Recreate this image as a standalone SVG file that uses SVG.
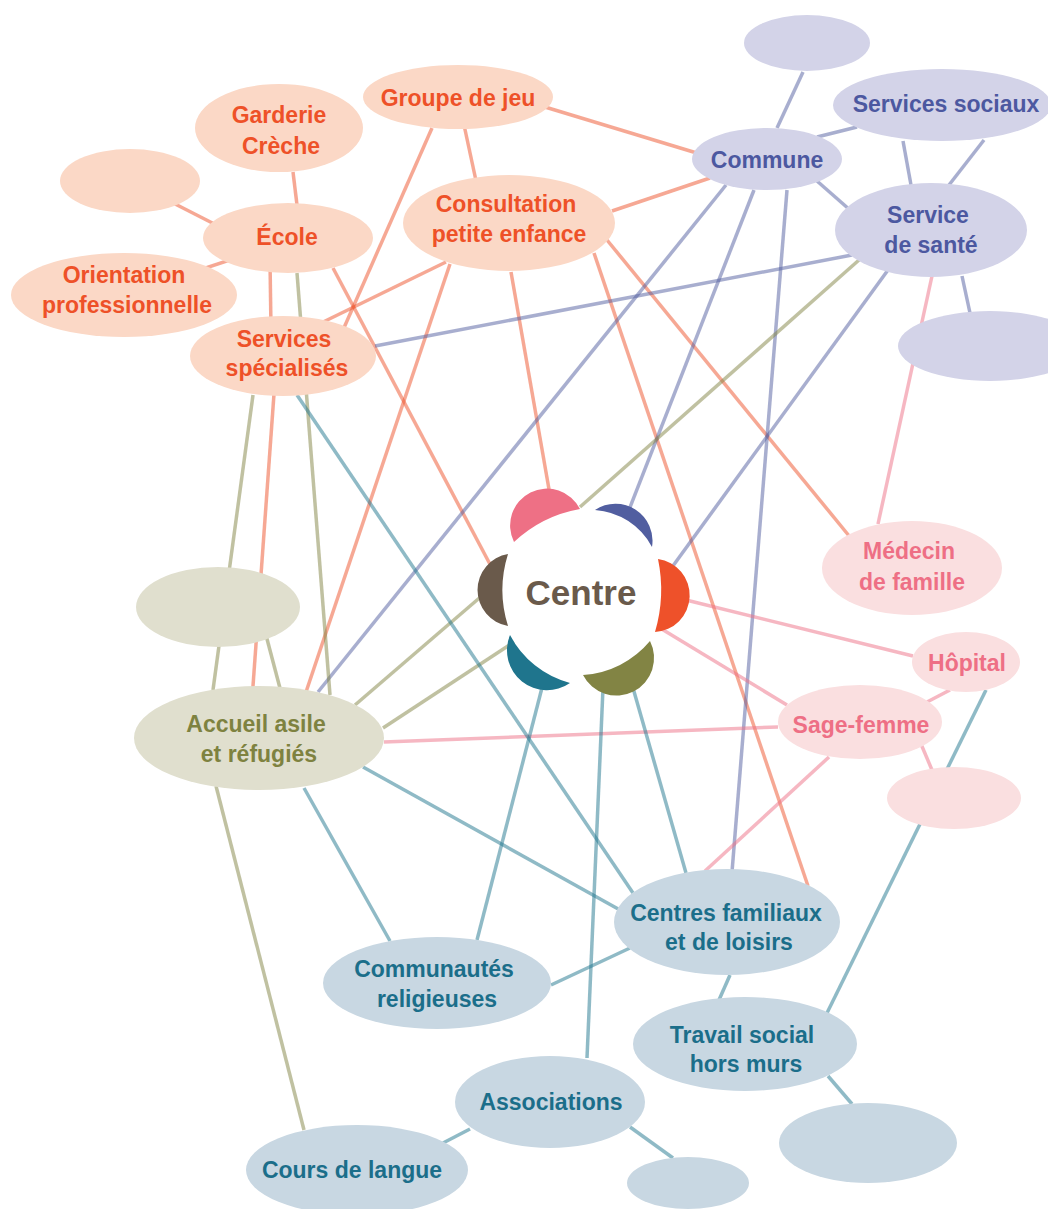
<svg xmlns="http://www.w3.org/2000/svg" width="1048" height="1209" viewBox="0 0 1048 1209">
<style>
text{font-family:"Liberation Sans",Arial,sans-serif;font-weight:bold;font-size:23px;text-anchor:middle}
.l{stroke-width:3.5;fill:none;stroke-opacity:0.5}
.lo{stroke:#EE512A}.ll{stroke:#515EA0}.lg{stroke:#828444}.lp{stroke:#EE7085}.lt{stroke:#1F758D}
.no{fill:#FBD8C6}.nl{fill:#D3D3E8}.ng{fill:#E0DFCE}.np{fill:#FADFE0}.nt{fill:#C8D7E2}
.to{fill:#EE5128}.tl{fill:#4C58A0}.tg{fill:#7E8240}.tp{fill:#EE6F85}.tt{fill:#1B6E8A}
</style>
<rect width="1048" height="1209" fill="#fff"/>
<g id="connectors">
<!-- orange -->
<line class="l lo" x1="293" y1="172" x2="297" y2="205"/>
<line class="l lo" x1="130" y1="181" x2="230" y2="232"/>
<line class="l lo" x1="124" y1="295" x2="260" y2="250"/>
<line class="l lo" x1="270" y1="260" x2="271" y2="330"/>
<line class="l lo" x1="275" y1="380" x2="252" y2="700"/>
<line class="l lo" x1="333" y1="268" x2="492" y2="568"/>
<line class="l lo" x1="458" y1="97" x2="478" y2="190"/>
<line class="l lo" x1="432" y1="128" x2="343" y2="330"/>
<line class="l lo" x1="545" y1="107" x2="700" y2="154"/>
<line class="l lo" x1="612" y1="211" x2="710" y2="178"/>
<line class="l lo" x1="446" y1="262" x2="317" y2="325"/>
<line class="l lo" x1="450" y1="264" x2="305" y2="695"/>
<line class="l lo" x1="511" y1="272" x2="550" y2="495"/>
<line class="l lo" x1="594" y1="253" x2="808" y2="886"/>
<line class="l lo" x1="607" y1="240" x2="850" y2="537"/>
<!-- lavender -->
<line class="l ll" x1="803" y1="72" x2="777" y2="128"/>
<line class="l ll" x1="817" y1="137" x2="857" y2="127"/>
<line class="l ll" x1="817" y1="181" x2="850" y2="210"/>
<line class="l ll" x1="903" y1="141" x2="911" y2="185"/>
<line class="l ll" x1="984" y1="140" x2="949" y2="185"/>
<line class="l ll" x1="962" y1="276" x2="970" y2="313"/>
<line class="l ll" x1="726" y1="185" x2="318" y2="692"/>
<line class="l ll" x1="754" y1="190" x2="627" y2="515"/>
<line class="l ll" x1="787" y1="190" x2="732" y2="872"/>
<line class="l ll" x1="852" y1="255" x2="375" y2="346"/>
<line class="l ll" x1="888" y1="270" x2="670" y2="570"/>
<!-- olive -->
<line class="l lg" x1="297" y1="273" x2="330" y2="695"/>
<line class="l lg" x1="253" y1="395" x2="213" y2="690"/>
<line class="l lg" x1="262" y1="620" x2="281" y2="692"/>
<line class="l lg" x1="216" y1="786" x2="304" y2="1130"/>
<line class="l lg" x1="355" y1="705" x2="484" y2="594"/>
<line class="l lg" x1="383" y1="728" x2="514" y2="642"/>
<line class="l lg" x1="859" y1="260" x2="580" y2="507"/>
<!-- pink -->
<line class="l lp" x1="932" y1="276" x2="878" y2="524"/>
<line class="l lp" x1="686" y1="600" x2="913" y2="656"/>
<line class="l lp" x1="660" y1="628" x2="787" y2="705"/>
<line class="l lp" x1="927" y1="702" x2="950" y2="690"/>
<line class="l lp" x1="778" y1="727" x2="384" y2="742"/>
<line class="l lp" x1="829" y1="757" x2="705" y2="871"/>
<line class="l lp" x1="921" y1="744" x2="932" y2="770"/>
<!-- teal -->
<line class="l lt" x1="986" y1="690" x2="827" y2="1013"/>
<line class="l lt" x1="730" y1="975" x2="719" y2="1000"/>
<line class="l lt" x1="828" y1="1076" x2="852" y2="1104"/>
<line class="l lt" x1="630" y1="1127" x2="673" y2="1158"/>
<line class="l lt" x1="470" y1="1129" x2="443" y2="1143"/>
<line class="l lt" x1="603" y1="688" x2="587" y2="1058"/>
<line class="l lt" x1="477" y1="940" x2="544" y2="680"/>
<line class="l lt" x1="551" y1="985" x2="630" y2="948"/>
<line class="l lt" x1="304" y1="788" x2="390" y2="941"/>
<line class="l lt" x1="363" y1="767" x2="620" y2="910"/>
<line class="l lt" x1="297" y1="395" x2="633" y2="893"/>
<line class="l lt" x1="633" y1="688" x2="686" y2="873"/>
</g>
<g id="n-blank-top"><ellipse class="nl" cx="807" cy="43" rx="63" ry="28"/></g>
<g id="n-services-sociaux"><ellipse class="nl" cx="942" cy="105" rx="109" ry="36"/><text class="tl" x="946" y="112">Services sociaux</text></g>
<g id="n-commune"><ellipse class="nl" cx="767" cy="159" rx="75" ry="31"/><text class="tl" x="767" y="168">Commune</text></g>
<g id="n-service-sante"><ellipse class="nl" cx="931" cy="230" rx="96" ry="47"/><text class="tl" x="928" y="223">Service</text><text class="tl" x="931" y="253">de santé</text></g>
<g id="n-blank-right"><ellipse class="nl" cx="990" cy="346" rx="92" ry="35"/></g>
<g id="n-groupe-jeu"><ellipse class="no" cx="458" cy="97" rx="95" ry="32"/><text class="to" x="458" y="106">Groupe de jeu</text></g>
<g id="n-consultation"><ellipse class="no" cx="509" cy="223" rx="106" ry="48"/><text class="to" x="506" y="212">Consultation</text><text class="to" x="509" y="242">petite enfance</text></g>
<g id="n-garderie"><ellipse class="no" cx="279" cy="128" rx="84" ry="44"/><text class="to" x="279" y="123">Garderie</text><text class="to" x="281" y="154">Crèche</text></g>
<g id="n-blank-orange"><ellipse class="no" cx="130" cy="181" rx="70" ry="32"/></g>
<g id="n-ecole"><ellipse class="no" cx="288" cy="238" rx="85" ry="35"/><text class="to" x="287" y="245">École</text></g>
<g id="n-orientation"><ellipse class="no" cx="124" cy="295" rx="113" ry="42"/><text class="to" x="124" y="283">Orientation</text><text class="to" x="127" y="313">professionnelle</text></g>
<g id="n-services-specialises"><ellipse class="no" cx="283" cy="356" rx="93" ry="40"/><text class="to" x="284" y="347">Services</text><text class="to" x="287" y="376">spécialisés</text></g>
<g id="n-blank-olive"><ellipse class="ng" cx="218" cy="607" rx="82" ry="40"/></g>
<g id="n-accueil"><ellipse class="ng" cx="259" cy="738" rx="125" ry="52"/><text class="tg" x="256" y="732">Accueil asile</text><text class="tg" x="259" y="762">et réfugiés</text></g>
<g id="n-medecin"><ellipse class="np" cx="912" cy="568" rx="90" ry="47"/><text class="tp" x="909" y="559">Médecin</text><text class="tp" x="912" y="590">de famille</text></g>
<g id="n-hopital"><ellipse class="np" cx="966" cy="662" rx="54" ry="30"/><text class="tp" x="967" y="671">Hôpital</text></g>
<g id="n-sage-femme"><ellipse class="np" cx="860" cy="722" rx="82" ry="37"/><text class="tp" x="861" y="733">Sage-femme</text></g>
<g id="n-blank-pink"><ellipse class="np" cx="954" cy="798" rx="67" ry="31"/></g>
<g id="n-centres-familiaux"><ellipse class="nt" cx="727" cy="922" rx="113" ry="53"/><text class="tt" x="726" y="921">Centres familiaux</text><text class="tt" x="729" y="950">et de loisirs</text></g>
<g id="n-communautes"><ellipse class="nt" cx="437" cy="983" rx="114" ry="46"/><text class="tt" x="434" y="977">Communautés</text><text class="tt" x="437" y="1007">religieuses</text></g>
<g id="n-travail"><ellipse class="nt" cx="745" cy="1044" rx="112" ry="47"/><text class="tt" x="742" y="1043">Travail social</text><text class="tt" x="746" y="1072">hors murs</text></g>
<g id="n-associations"><ellipse class="nt" cx="550" cy="1102" rx="95" ry="46"/><text class="tt" x="551" y="1110">Associations</text></g>
<g id="n-cours"><ellipse class="nt" cx="357" cy="1170" rx="111" ry="45"/><text class="tt" x="352" y="1178">Cours de langue</text></g>
<g id="n-blank-br"><ellipse class="nt" cx="868" cy="1143" rx="89" ry="40"/></g>
<g id="n-blank-bottom"><ellipse class="nt" cx="688" cy="1183" rx="61" ry="26"/></g>
<g id="n-centre">
<circle cx="582" cy="592" r="76" fill="#fff"/>
<path d="M514,542 A36,36 0 0 1 580,509 A130,130 0 0 0 514,542 Z" fill="#EE7085"/>
<path d="M595,510 A37,37 0 0 1 652,547 A70,70 0 0 0 595,510 Z" fill="#515EA0"/>
<path d="M658,559 A36.7,36.7 0 0 1 655,632 A150,150 0 0 0 658,559 Z" fill="#EE512A"/>
<path d="M650,641 A37,37 0 0 1 583,675 A95,95 0 0 0 650,641 Z" fill="#828444"/>
<path d="M570,683 A40,40 0 0 1 510,635 A95,95 0 0 0 570,683 Z" fill="#1F758D"/>
<path d="M508,626 A36.5,36.5 0 0 1 508,554 A120,120 0 0 0 508,626 Z" fill="#6A5A4B"/>
<text x="581" y="605" style="font-size:35px;fill:#6A5A4B">Centre</text>
</g>
</svg>
